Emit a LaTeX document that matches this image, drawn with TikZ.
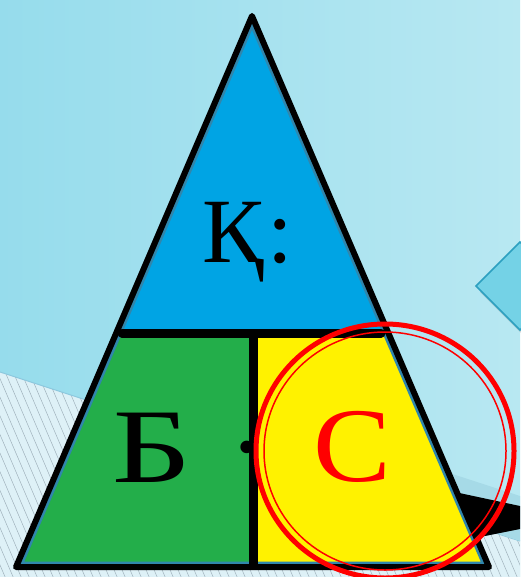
\documentclass[tikz,border=0pt]{standalone}
\usepackage{fontspec}
\setmainfont{Liberation Serif}
\usetikzlibrary{calc}
\definecolor{bgdark}{RGB}{150,220,236}
\definecolor{bglight}{RGB}{184,232,242}
\definecolor{hatchbg}{RGB}{222,241,247}
\definecolor{hatchln}{RGB}{160,178,188}
\definecolor{bandcol}{RGB}{166,218,231}
\definecolor{seamcol}{RGB}{140,200,222}
\definecolor{topblue}{RGB}{0,164,228}
\definecolor{midgreen}{RGB}{35,174,74}
\definecolor{sunyellow}{RGB}{255,242,0}
\definecolor{rimblue}{RGB}{48,134,172}
\definecolor{gemfill}{RGB}{116,210,230}
\definecolor{gemedge}{RGB}{45,160,192}

\begin{document}
\begin{tikzpicture}[x=1pt,y=-1pt,
  letter/.style={inner sep=0pt,anchor=base,font=\fontsize{106}{106}\selectfont},
  tbar/.style={line width=9pt,line cap=round}]
  \useasboundingbox (0,0) rectangle (520,577);
  \shade[left color=bgdark,right color=bglight] (0,0) rectangle (520,577);
  \fill[hatchbg] (0,372) -- (520,541) -- (520,577) -- (0,577) -- cycle;
  \begin{scope}
    \clip (0,372) -- (520,541) -- (520,577) -- (0,577) -- cycle;
    \foreach \hx in {-160,-152,...,520}
      \draw[hatchln,line width=0.5pt] (\hx,360) -- ++(100,233);
  \end{scope}
  \draw[seamcol,line width=1pt] (0,372) -- (520,541);
  \fill[bandcol] (400,457) -- (520,496) -- (520,541) -- (400,502) -- cycle;
  \fill[black] (450,491) -- (520,506) -- (520,529) -- (470,539) -- cycle;
  \fill[black,opacity=.15] (480,292) -- (524,248) -- (568,292) -- (524,336) -- cycle;
  \filldraw[fill=gemfill,draw=gemedge,line width=1.5pt] (476,286) -- (520,242) -- (564,286) -- (520,330) -- cycle;
  \coordinate (apex) at (252,16);
  \coordinate (bl) at (16,567);
  \coordinate (br) at (489,567);
  \coordinate (ml) at (116,333);
  \coordinate (mr) at (389,333);
  \coordinate (mt) at (253,333);
  \coordinate (mb) at (253,567);
  \fill[topblue] (apex) -- (mr) -- (ml) -- cycle;
  \fill[midgreen] (ml) -- (mt) -- (mb) -- (bl) -- cycle;
  \fill[sunyellow] (mt) -- (mr) -- (br) -- (mb) -- cycle;
  \begin{scope}
    \clip (apex) -- (br) -- (bl) -- cycle;
    \draw[rimblue,line width=11pt] (apex) -- (br) -- (bl) -- cycle;
  \end{scope}
  \draw[black,line width=6pt,line join=round] (apex) -- (br) -- (bl) -- cycle;
  \node[letter,font=\fontsize{92}{92}\selectfont] (ka) at (248,262) {Қ\hspace{4pt}:};
  \node[letter] (be) at (152,482) {\scalebox{1.3}[1]{Б}};
  \node[letter] (dot) at (247,482) {·};
  \node[letter,text=red] (es) at (352,481) {\scalebox{1.1}[1]{С}};
  \draw[tbar] (122,333) -- (381,333);
  \draw[line width=9pt] (253,333) -- (253,570);
  \draw[red,line width=5pt] (385,451) ellipse [x radius=129,y radius=127];
  \draw[red,line width=1.5pt] (385,451) ellipse [x radius=121,y radius=119];
\end{tikzpicture}
\end{document}
